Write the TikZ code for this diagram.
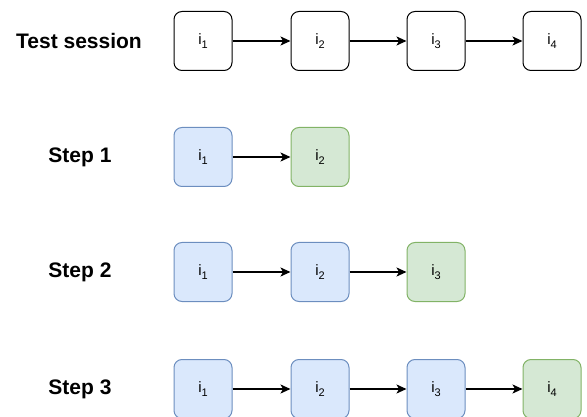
\documentclass[tikz,border=0pt]{standalone}
\usepackage{fontspec}
\setmainfont{Liberation Sans}
\usetikzlibrary{arrows.meta}

\definecolor{blueFill}{HTML}{DAE8FC}
\definecolor{blueLine}{HTML}{6C8EBF}
\definecolor{greenFill}{HTML}{D5E8D4}
\definecolor{greenLine}{HTML}{82B366}

\tikzset{
  item/.style={draw=black, fill=white, line width=1pt, rounded corners=8pt,
    minimum width=58pt, minimum height=59pt, inner sep=0pt,
    font=\fontsize{15}{17}\selectfont},
  done/.style={item, draw=blueLine, fill=blueFill},
  next/.style={item, draw=greenLine, fill=greenFill},
  rowlabel/.style={font=\fontsize{21}{24}\selectfont\bfseries, anchor=center},
  link/.style={line width=1.4pt, -{Stealth[length=10pt,width=9pt,inset=2.5pt]}}
}

% item name with a lowered index
\newcommand{\itm}[1]{i\raisebox{-3.5pt}{\fontsize{11}{12}\selectfont #1}}

\begin{document}
\begin{tikzpicture}[x=1pt, y=-1pt]
  \useasboundingbox (0,0) rectangle (587,417);
  \clip (0,0) rectangle (587,417);

  % row labels
  \node[rowlabel] (lt)  at (79,41)  {Test session};
  \node[rowlabel] (ls1) at (80,157) {Step 1};
  \node[rowlabel] (ls2) at (80,272) {Step 2};
  \node[rowlabel] (ls3) at (80,389) {Step 3};

  % test session
  \node[item] (t1) at (203,41) {\itm{1}};
  \node[item] (t2) at (320,41) {\itm{2}};
  \node[item] (t3) at (436,41) {\itm{3}};
  \node[item] (t4) at (552,41) {\itm{4}};
  \draw[link] (t1) -- (t2);
  \draw[link] (t2) -- (t3);
  \draw[link] (t3) -- (t4);

  % step 1
  \node[done] (a1) at (203,157) {\itm{1}};
  \node[next] (a2) at (320,157) {\itm{2}};
  \draw[link] (a1) -- (a2);

  % step 2
  \node[done] (b1) at (203,272) {\itm{1}};
  \node[done] (b2) at (320,272) {\itm{2}};
  \node[next] (b3) at (436,272) {\itm{3}};
  \draw[link] (b1) -- (b2);
  \draw[link] (b2) -- (b3);

  % step 3
  \node[done] (c1) at (203,389) {\itm{1}};
  \node[done] (c2) at (320,389) {\itm{2}};
  \node[done] (c3) at (436,389) {\itm{3}};
  \node[next] (c4) at (552,389) {\itm{4}};
  \draw[link] (c1) -- (c2);
  \draw[link] (c2) -- (c3);
  \draw[link] (c3) -- (c4);
\end{tikzpicture}
\end{document}
